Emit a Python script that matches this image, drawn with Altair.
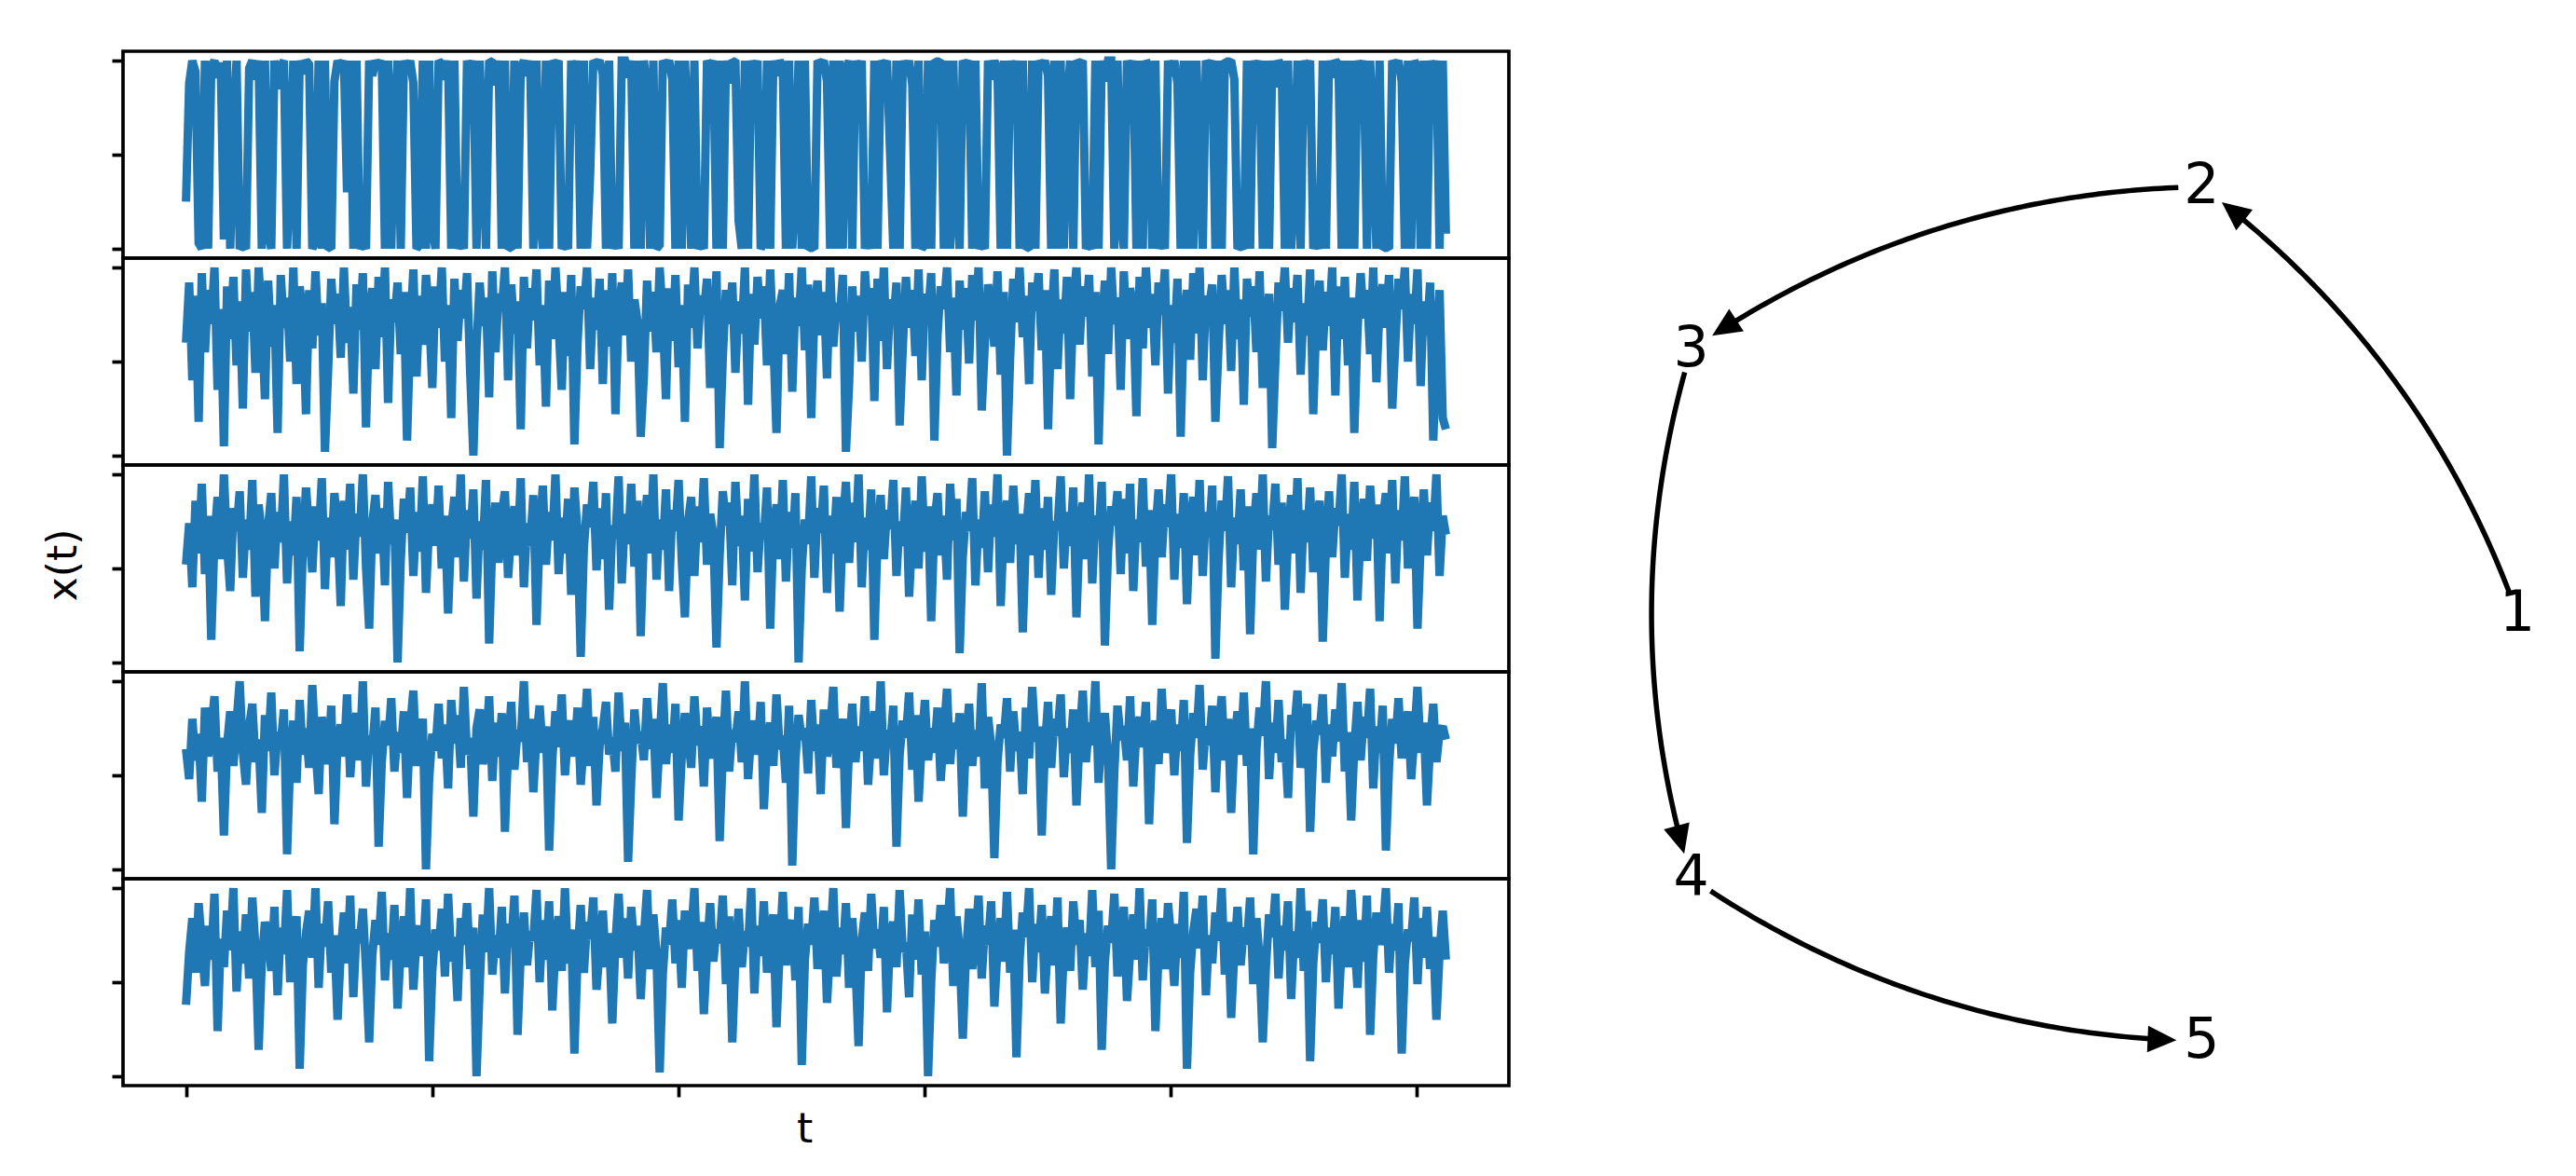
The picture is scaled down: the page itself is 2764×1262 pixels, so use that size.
import altair as alt
import numpy as np
import pandas as pd

# ---------------- data ----------------
series_1 = [
    25, 88, 100, 94, 3, 0, 100, 0, 97, 100, 91, 99, 5, 100, 0, 60, 100, 0, 2, 0,
    96, 100, 90, 100, 0, 100, 10, 0, 100, 85, 97, 100, 0, 45, 100, 0, 100, 93, 100, 98,
    0, 4, 100, 0, 100, 1, 0, 89, 100, 96, 100, 30, 100, 0, 100, 0, 3, 0, 100, 92,
    100, 97, 100, 0, 100, 0, 70, 100, 0, 100, 95, 100, 88, 0, 2, 100, 0, 100, 12, 0,
    100, 98, 90, 100, 0, 100, 0, 5, 0, 100, 94, 100, 0, 100, 55, 0, 100, 99, 87, 100,
    0, 100, 0, 1, 100, 0, 96, 100, 92, 100, 0, 100, 20, 0, 100, 0, 100, 97, 100, 0,
    3, 0, 100, 89, 100, 0, 100, 0, 40, 100, 98, 100, 93, 0, 100, 0, 6, 0, 100, 100,
    91, 100, 0, 100, 0, 100, 85, 0, 100, 0, 2, 100, 97, 100, 90, 0, 100, 0, 100, 65,
    0, 100, 0, 4, 0, 100, 96, 100, 0, 100, 0, 100, 88, 100, 99, 15, 0, 100, 0, 100,
    94, 100, 0, 3, 100, 0, 100, 92, 100, 97, 0, 100, 0, 35, 100, 0, 100, 0, 1, 0,
    100, 98, 100, 89, 0, 100, 0, 100, 0, 95, 100, 0, 100, 91, 100, 0, 8, 0, 100, 0,
    100, 96, 100, 50, 0, 100, 0, 100, 93, 100, 87, 0, 100, 0, 2, 100, 0, 100, 99, 100,
    0, 100, 0, 100, 25, 0, 100, 97, 100, 0, 100, 0, 4, 0, 100, 90, 100, 95, 0, 100,
    0, 100, 84, 100, 0, 100, 0, 1, 100, 0, 100, 96, 100, 92, 0, 100, 0, 100, 0, 75,
    100, 0, 100, 98, 100, 0, 3, 0, 100, 0, 100, 89, 100, 100, 0, 100, 18, 0, 100, 94,
    100, 0, 100, 0, 100, 97, 0, 100, 0, 6, 0, 100, 92, 100, 88, 0, 100, 0, 100, 0,
    100, 45, 0, 100, 96, 100, 0, 100, 0, 100, 99, 100, 90, 0, 2, 0, 100, 0, 100, 93,
    100, 0, 100, 0, 100, 86, 100, 97, 0, 100, 0, 30, 100, 0, 100, 95, 100, 0, 5, 0,
    100, 0, 100, 91, 100, 98, 0, 100, 0, 100, 0, 100, 94, 100, 0, 100, 60, 0, 100, 0,
    1, 0, 100, 97, 100, 89, 0, 100, 0, 100, 96, 0, 100, 0, 100, 92, 100, 0, 100, 8,
]
series_2 = [
    60, 92, 40, 85, 18, 97, 55, 88, 70, 100, 35, 78, 5, 90, 62, 95, 48, 82, 25, 99,
    66, 87, 44, 100, 72, 30, 93, 58, 80, 12, 96, 68, 84, 50, 100, 38, 90, 75, 22, 88,
    57, 98, 64, 81, 2, 45, 94, 70, 86, 52, 100, 60, 79, 33, 91, 67, 97, 15, 74, 89,
    46, 95, 63, 100, 28, 83, 71, 92, 54, 87, 8, 66, 99, 42, 85, 59, 96, 76, 36, 90,
    68, 100, 50, 80, 20, 94, 61, 88, 73, 97, 44, 0, 58, 92, 69, 84, 31, 98, 55, 86,
    77, 100, 40, 91, 65, 82, 14, 95, 57, 89, 72, 99, 48, 80, 26, 93, 62, 100, 70, 35,
    87, 53, 96, 6, 60, 90, 78, 100, 46, 84, 67, 94, 38, 88, 58, 97, 22, 75, 92, 64,
    99, 50, 83, 71, 10, 42, 93, 66, 87, 55, 100, 74, 30, 89, 61, 96, 47, 80, 18, 91,
    68, 100, 57, 85, 76, 94, 36, 63, 98, 4, 52, 88, 70, 92, 44, 82, 65, 100, 27, 86,
    59, 95, 73, 90, 48, 99, 62, 12, 79, 88, 54, 97, 34, 84, 69, 100, 56, 91, 20, 76,
    93, 64, 87, 41, 100, 58, 81, 72, 96, 2, 38, 90, 66, 85, 50, 98, 75, 89, 29, 94,
    61, 100, 46, 83, 70, 92, 16, 57, 95, 68, 88, 53, 99, 40, 86, 74, 97, 8, 64, 90,
    78, 100, 55, 84, 32, 93, 67, 89, 49, 96, 72, 100, 24, 60, 91, 80, 58, 98, 43, 87,
    0, 52, 94, 71, 100, 63, 85, 38, 92, 77, 97, 56, 88, 14, 69, 99, 46, 83, 65, 95,
    30, 81, 100, 59, 90, 74, 96, 42, 87, 6, 66, 93, 54, 100, 70, 84, 35, 98, 62, 89,
    78, 21, 95, 57, 100, 68, 86, 48, 92, 75, 99, 33, 80, 60, 94, 10, 73, 88, 51, 97,
    65, 100, 40, 85, 79, 91, 18, 58, 96, 70, 88, 45, 100, 62, 83, 27, 94, 74, 90, 55,
    98, 36, 67, 86, 4, 50, 92, 77, 100, 60, 89, 71, 96, 43, 81, 64, 99, 22, 75, 93,
    56, 87, 69, 100, 32, 90, 62, 95, 48, 84, 12, 66, 97, 73, 88, 54, 100, 39, 80, 91,
    68, 96, 25, 60, 94, 78, 100, 50, 86, 70, 99, 37, 82, 64, 92, 8, 58, 88, 20, 14,
]
series_3 = [
    52, 74, 40, 86, 58, 95, 47, 78, 12, 66, 88, 55, 100, 62, 38, 82, 70, 91, 45, 76,
    60, 97, 35, 84, 68, 22, 72, 90, 50, 80, 64, 100, 42, 75, 57, 88, 6, 61, 93, 70,
    48, 83, 65, 98, 39, 77, 56, 90, 72, 30, 86, 60, 95, 44, 79, 67, 100, 51, 18, 74,
    89, 58, 82, 41, 96, 63, 76, 0, 54, 87, 69, 93, 46, 80, 59, 99, 37, 73, 84, 62,
    94, 50, 78, 26, 71, 88, 56, 100, 43, 81, 66, 92, 34, 75, 60, 97, 10, 64, 85, 53,
    79, 91, 45, 70, 83, 57, 98, 40, 74, 62, 89, 20, 68, 94, 52, 80, 65, 100, 47, 77,
    58, 87, 36, 93, 69, 3, 61, 84, 72, 96, 49, 82, 55, 90, 28, 73, 66, 99, 42, 79,
    63, 95, 51, 86, 14, 67, 89, 58, 100, 44, 76, 60, 92, 38, 81, 70, 97, 54, 24, 75,
    88, 46, 83, 64, 98, 52, 79, 68, 8, 57, 91, 73, 85, 41, 96, 62, 78, 33, 87, 59,
    100, 48, 74, 66, 93, 18, 70, 84, 55, 97, 43, 80, 61, 90, 0, 50, 76, 63, 99, 45,
    82, 69, 94, 37, 78, 58, 88, 27, 72, 96, 53, 85, 64, 100, 40, 77, 60, 92, 12, 66,
    89, 55, 81, 71, 97, 46, 75, 62, 93, 35, 68, 86, 50, 99, 59, 83, 22, 74, 90, 57,
    78, 44, 95, 65, 87, 5, 56, 80, 70, 98, 41, 76, 61, 91, 48, 84, 67, 100, 30, 72,
    86, 53, 94, 63, 79, 16, 68, 90, 57, 97, 45, 82, 60, 88, 36, 75, 71, 99, 50, 80,
    62, 93, 24, 70, 85, 55, 100, 42, 78, 66, 96, 9, 59, 83, 73, 91, 47, 87, 58, 95,
    38, 76, 64, 98, 51, 81, 20, 69, 92, 56, 84, 72, 100, 44, 79, 61, 90, 31, 74, 88,
    57, 97, 46, 80, 67, 94, 2, 54, 86, 70, 99, 40, 77, 63, 92, 49, 83, 15, 68, 90,
    60, 100, 43, 78, 71, 95, 52, 85, 28, 66, 89, 58, 98, 37, 81, 64, 93, 48, 75, 86,
    11, 62, 91, 56, 82, 73, 100, 45, 79, 60, 96, 33, 70, 87, 54, 94, 66, 84, 22, 76,
    90, 58, 97, 42, 81, 65, 99, 50, 74, 88, 18, 63, 92, 57, 85, 70, 100, 46, 78, 68,
]
series_4 = [
    64, 48, 80, 58, 72, 36, 86, 60, 74, 92, 52, 70, 18, 66, 84, 55, 78, 100, 62, 45,
    76, 88, 57, 69, 30, 82, 63, 94, 50, 73, 67, 85, 8, 59, 79, 46, 90, 61, 75, 54,
    98, 65, 40, 81, 70, 56, 87, 24, 68, 77, 60, 93, 49, 74, 83, 58, 100, 44, 71, 64,
    86, 12, 57, 79, 66, 91, 52, 73, 62, 84, 38, 76, 95, 55, 69, 80, 0, 48, 72, 63,
    88, 59, 77, 43, 90, 67, 82, 54, 97, 61, 70, 28, 75, 85, 56, 66, 92, 47, 78, 60,
    83, 20, 64, 89, 53, 74, 68, 100, 57, 80, 41, 71, 87, 62, 76, 10, 58, 84, 65, 93,
    50, 72, 79, 60, 86, 45, 68, 96, 55, 81, 34, 66, 75, 89, 61, 70, 52, 94, 63, 78,
    4, 47, 85, 67, 73, 58, 91, 64, 80, 38, 69, 99, 56, 77, 62, 88, 26, 60, 83, 71,
    54, 92, 66, 76, 44, 86, 59, 70, 81, 15, 63, 95, 52, 74, 68, 84, 57, 100, 48, 72,
    79, 61, 89, 32, 67, 78, 55, 93, 64, 71, 46, 87, 2, 58, 82, 69, 75, 51, 90, 63,
    77, 40, 85, 60, 73, 97, 54, 68, 80, 22, 66, 88, 57, 76, 63, 92, 45, 70, 84, 59,
    100, 50, 74, 65, 87, 12, 61, 79, 70, 94, 53, 82, 36, 67, 90, 58, 75, 62, 86, 47,
    72, 96, 56, 78, 64, 83, 28, 69, 88, 55, 74, 60, 99, 43, 81, 66, 6, 57, 77, 70,
    91, 52, 84, 63, 73, 40, 86, 59, 97, 68, 76, 18, 64, 89, 54, 80, 71, 93, 49, 75,
    62, 85, 34, 70, 95, 57, 78, 66, 100, 46, 72, 83, 60, 0, 52, 87, 69, 76, 58, 92,
    44, 74, 81, 65, 89, 24, 67, 79, 56, 96, 62, 71, 85, 50, 77, 63, 90, 14, 60, 83,
    70, 98, 53, 76, 66, 87, 41, 73, 92, 58, 80, 30, 68, 84, 61, 94, 55, 75, 8, 64,
    86, 71, 100, 48, 78, 62, 90, 57, 69, 38, 82, 74, 95, 54, 67, 88, 20, 63, 79, 72,
    93, 46, 77, 60, 85, 68, 99, 52, 73, 26, 65, 89, 58, 81, 70, 96, 43, 76, 62, 87,
    10, 55, 80, 67, 91, 59, 74, 84, 48, 70, 97, 62, 78, 34, 66, 88, 57, 73, 76, 69,
]
series_5 = [
    38, 66, 84, 55, 92, 70, 48, 80, 62, 97, 24, 73, 58, 88, 67, 100, 45, 77, 60, 86,
    52, 95, 68, 14, 61, 82, 74, 56, 90, 43, 79, 65, 99, 50, 72, 85, 4, 59, 76, 88,
    63, 100, 47, 81, 69, 93, 55, 75, 30, 66, 87, 60, 96, 42, 78, 71, 89, 57, 18, 64,
    83, 70, 98, 51, 76, 62, 91, 36, 68, 85, 58, 100, 46, 73, 80, 64, 94, 8, 56, 78,
    67, 89, 53, 97, 61, 74, 40, 84, 70, 92, 57, 79, 0, 48, 86, 66, 100, 54, 75, 63,
    90, 44, 81, 69, 96, 22, 65, 87, 59, 77, 72, 99, 50, 83, 62, 93, 35, 70, 85, 56,
    100, 60, 78, 12, 64, 91, 55, 82, 73, 95, 46, 68, 88, 58, 76, 28, 71, 97, 63, 84,
    52, 90, 67, 80, 41, 74, 99, 57, 86, 65, 2, 54, 79, 70, 94, 60, 83, 47, 88, 68,
    75, 100, 56, 82, 33, 66, 92, 61, 78, 71, 96, 49, 85, 18, 63, 89, 58, 77, 69, 100,
    44, 80, 64, 93, 55, 72, 86, 26, 67, 98, 59, 76, 83, 51, 90, 6, 62, 81, 70, 95,
    57, 74, 88, 39, 69, 100, 53, 79, 65, 92, 47, 84, 60, 16, 72, 87, 56, 97, 68, 78,
    63, 90, 34, 75, 82, 58, 99, 66, 71, 42, 86, 62, 94, 54, 77, 0, 50, 83, 69, 91,
    60, 76, 100, 48, 85, 67, 20, 64, 89, 57, 73, 96, 52, 80, 70, 93, 37, 68, 84, 61,
    98, 55, 78, 10, 62, 87, 74, 100, 50, 81, 66, 91, 44, 72, 85, 59, 95, 28, 67, 79,
    56, 93, 70, 83, 46, 76, 64, 99, 58, 88, 14, 61, 80, 71, 97, 53, 74, 90, 40, 66,
    86, 62, 100, 51, 78, 69, 94, 24, 65, 84, 57, 92, 73, 48, 81, 63, 98, 4, 55, 77,
    89, 68, 96, 43, 75, 60, 87, 72, 100, 54, 82, 31, 66, 90, 59, 79, 70, 95, 49, 84,
    62, 18, 58, 86, 74, 97, 52, 80, 67, 93, 41, 77, 63, 100, 56, 88, 8, 60, 82, 71,
    94, 50, 79, 65, 90, 36, 69, 85, 58, 99, 73, 47, 83, 61, 96, 22, 64, 87, 70, 76,
    100, 55, 81, 67, 92, 12, 60, 78, 72, 95, 49, 84, 63, 90, 57, 74, 30, 66, 88, 62,
]
all_series = [series_1, series_2, series_3, series_4, series_5]
t_end = 10240
x_ticks = [0, 2000, 4000, 6000, 8000, 10000]
y_ticks = [0, 50, 100]

node_labels = ["1", "2", "3", "4", "5"]
node_x = [1.0, 0.309, -0.809, -0.809, 0.309]
node_y = [0.0, 0.951, 0.588, -0.588, -0.951]
edge_src = [0, 1, 2, 3]
edge_dst = [1, 2, 3, 4]

# ---------------- style ----------------
BLUE = "#1f77b4"
FONT = "DejaVu Sans"
PANEL_W, PANEL_H = 1487, 222
X_DOMAIN = [-512, 10752]
Y_DOMAIN = [-5, 105]
FRAME_W = 3.7

# ---------------- left: stacked time series ----------------
panels = []
for k, vals in enumerate(all_series):
    df = pd.DataFrame({"t": np.linspace(0, t_end, len(vals)), "x": vals})
    y_kw = dict(values=y_ticks, labels=False, domain=False, grid=False,
                tickSize=12, tickWidth=FRAME_W, tickColor="black")
    if k == 2:
        y_axis = alt.Axis(title="x(t)", titleFont=FONT, titleFontSize=44,
                          titleFontWeight="normal", titleColor="black",
                          titleAngle=270, titleAlign="center", titleBaseline="middle",
                          titleX=-64, titleY=107, **y_kw)
    else:
        y_axis = alt.Axis(title=None, **y_kw)
    if k == 4:
        x_axis = alt.Axis(values=x_ticks, labels=False, domain=False, grid=False,
                          tickSize=12, tickWidth=FRAME_W, tickColor="black",
                          title="t", titleFont=FONT, titleFontSize=44,
                          titleFontWeight="normal", titleColor="black",
                          titleX=731, titleY=25, titleAlign="center",
                          titleBaseline="top")
    else:
        x_axis = None
    ch = alt.Chart(df).mark_line(
        color=BLUE, strokeWidth=9, strokeJoin="miter", strokeMiterLimit=1.5,
        strokeCap="butt"
    ).encode(
        x=alt.X("t:Q", scale=alt.Scale(domain=X_DOMAIN, nice=False, zero=False),
                axis=x_axis),
        y=alt.Y("x:Q", scale=alt.Scale(domain=Y_DOMAIN, nice=False, zero=False),
                axis=y_axis),
    ).properties(width=PANEL_W, height=PANEL_H)
    panels.append(ch)

left = alt.vconcat(*panels, spacing=0, bounds="flush")

# ---------------- right: directed graph ----------------
RX, RY = 490.0, 482.0       # px per layout unit
RAD = 0.15                   # arc3 curvature
SHRINK_A, SHRINK_B = 25.0, 27.0
HEAD_LEN = 31.0

edge_rows, arrow_rows = [], []
for e, (s, d) in enumerate(zip(edge_src, edge_dst)):
    p0 = np.array([node_x[s] * RX, -node_y[s] * RY])
    p2 = np.array([node_x[d] * RX, -node_y[d] * RY])
    dv = p2 - p0
    c = (p0 + p2) / 2 + RAD * np.array([-dv[1], dv[0]])

    def bez(t):
        t = np.asarray(t, dtype=float)
        return (((1 - t) ** 2)[..., None] * p0 + (2 * t * (1 - t))[..., None] * c
                + (t ** 2)[..., None] * p2)

    tt = np.linspace(0, 1, 4001)
    B = bez(tt)
    d0 = np.hypot(*(B - p0).T)
    d2 = np.hypot(*(B - p2).T)
    t_start = tt[np.argmax(d0 >= SHRINK_A)]
    t_tip = tt[np.where(d2 >= SHRINK_B)[0].max()]
    t_base = tt[np.where(d2 >= SHRINK_B + HEAD_LEN * 0.7)[0].max()]
    for j, tv in enumerate(np.linspace(t_start, t_base, 80)):
        P = bez(tv)
        edge_rows.append({"edge": e, "order": j, "x": P[0] / RX, "y": -P[1] / RY})
    tip = bez(t_tip)
    tan = 2 * (1 - t_tip) * (c - p0) + 2 * t_tip * (p2 - c)
    ang = float(np.degrees(np.arctan2(tan[0], -tan[1]))) % 360
    arrow_rows.append({"x": tip[0] / RX, "y": -tip[1] / RY, "angle": ang})

edges_df = pd.DataFrame(edge_rows)
arrows_df = pd.DataFrame(arrow_rows)
nodes_df = pd.DataFrame({"label": node_labels, "x": node_x, "y": node_y})

X0_PX, CX_PX = 1680.0, 2210.0
Y0_PX, CY_PX = 54.7, 658.5
R_W, R_H = 1070, 1110
xa = (X0_PX - CX_PX) / RX
xb = xa + R_W / RX
yb = (CY_PX - Y0_PX) / RY
ya = yb - R_H / RY

xs = alt.Scale(domain=[xa, xb], nice=False, zero=False)
ys = alt.Scale(domain=[ya, yb], nice=False, zero=False)

edge_layer = alt.Chart(edges_df).mark_line(
    color="black", strokeWidth=5.5, strokeCap="butt"
).encode(
    x=alt.X("x:Q", scale=xs, axis=None),
    y=alt.Y("y:Q", scale=ys, axis=None),
    detail="edge:N",
    order="order:Q",
)
arrow_layer = alt.Chart(arrows_df).mark_point(
    shape="M0,0L0.46,1L-0.46,1Z", filled=True, color="black", opacity=1,
    size=(2 * HEAD_LEN) ** 2
).encode(
    x=alt.X("x:Q", scale=xs, axis=None),
    y=alt.Y("y:Q", scale=ys, axis=None),
    angle=alt.Angle("angle:Q", scale=None),
)
node_layer = alt.Chart(nodes_df).mark_text(
    font=FONT, fontSize=60, color="black", align="center", baseline="middle"
).encode(
    x=alt.X("x:Q", scale=xs, axis=None),
    y=alt.Y("y:Q", scale=ys, axis=None),
    text="label:N",
)
right = alt.layer(edge_layer, arrow_layer, node_layer).properties(
    width=R_W, height=R_H, view=alt.ViewBackground(strokeOpacity=0)
)

chart = alt.hconcat(left, right, spacing=60).properties(
    padding={"left": 36, "top": 45, "right": 5, "bottom": 5},
    background="white",
).configure_view(
    stroke="black", strokeWidth=FRAME_W
).configure_axis(grid=False)

chart.save("out.html", embed_options={"renderer": "svg", "actions": False})
